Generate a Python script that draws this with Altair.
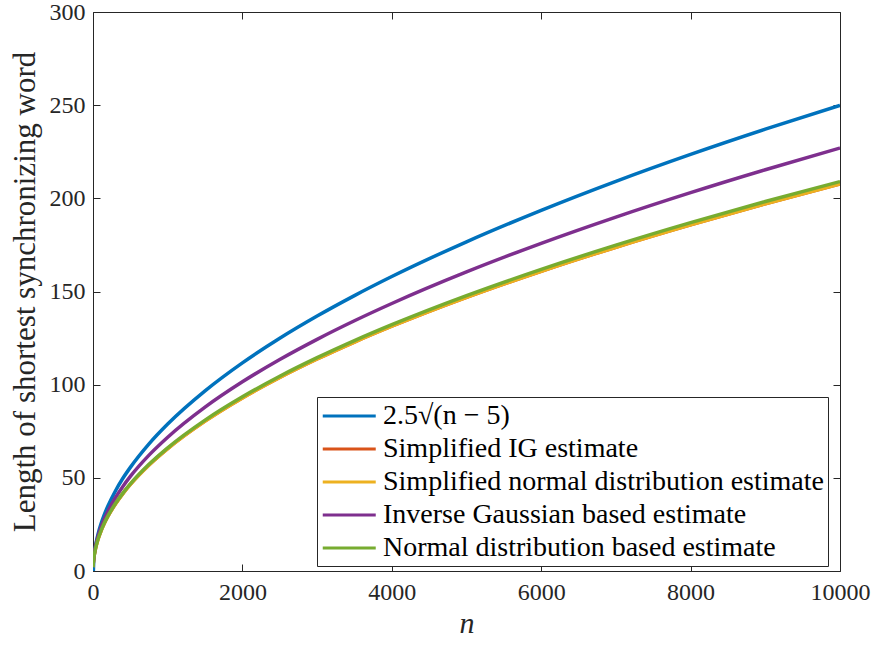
import altair as alt
import pandas as pd

# sample positions (n) and values
n_vals = [1, 2, 5, 10, 20, 35, 50, 75, 100, 150, 200, 300, 400, 500, 750, 1000,
          1500, 2000, 2500, 3000, 3500, 4000, 5000, 6000, 7000, 8000, 9000, 10000]

n_blue = [5, 10, 20, 35, 50, 75, 100, 150, 200, 300, 400, 500, 750, 1000,
          1500, 2000, 2500, 3000, 3500, 4000, 5000, 6000, 7000, 8000, 9000, 10000]
blue = [0.0, 5.59, 9.68, 13.69, 16.77, 20.92, 24.37, 30.10, 34.91, 42.94, 49.75, 55.62,
        68.24, 78.86, 96.66, 111.69, 124.90, 136.83, 147.80, 158.03, 176.67, 193.55,
        209.13, 223.58, 237.11, 249.88]

yellow = [2.08, 2.94, 4.64, 6.57, 9.29, 12.29, 14.69, 17.99, 20.77, 25.44, 29.37, 35.97,
          41.54, 46.44, 56.88, 65.68, 80.44, 92.89, 103.85, 113.76, 122.88, 131.36,
          146.87, 160.88, 173.77, 185.77, 197.04, 207.7]
orange = [2.08, 2.94, 4.64, 6.57, 9.29, 12.29, 14.69, 17.99, 20.77, 25.44, 29.37, 35.97,
          41.54, 46.44, 56.88, 65.68, 80.44, 92.89, 103.85, 113.76, 122.88, 131.36,
          146.87, 160.88, 173.77, 185.77, 197.04, 207.7]
purple = [2.27, 3.21, 5.08, 7.18, 10.15, 13.43, 16.05, 19.66, 22.7, 27.80, 32.10, 39.32,
          45.4, 50.76, 62.17, 71.78, 87.92, 101.52, 113.5, 124.33, 134.30, 143.57,
          160.51, 175.83, 189.92, 203.04, 215.35, 227.0]
green = [2.09, 2.96, 4.67, 6.61, 9.35, 12.36, 14.78, 18.10, 20.9, 25.6, 29.56, 36.2,
         41.8, 46.73, 57.24, 66.09, 80.95, 93.47, 104.5, 114.47, 123.65, 132.18,
         147.79, 161.89, 174.86, 186.94, 198.28, 209.0]

names = ["2.5√(n − 5)", "Simplified IG estimate",
         "Simplified normal distribution estimate",
         "Inverse Gaussian based estimate", "Normal distribution based estimate"]
colors = ["#0072BD", "#D95319", "#EDB120", "#7E2F8E", "#77AC30"]

x_ticks = [0, 2000, 4000, 6000, 8000, 10000]
y_ticks = [0, 50, 100, 150, 200, 250, 300]

W, H = 747, 559
FONT = "Liberation Serif"
INK = "#262626"

def frame(xs, ys, name):
    return pd.DataFrame({"n": xs, "v": ys, "series": name})

dfs = [frame(n_blue, blue, names[0]), frame(n_vals, orange, names[1]),
       frame(n_vals, yellow, names[2]), frame(n_vals, purple, names[3]),
       frame(n_vals, green, names[4])]

xscale = alt.Scale(domain=[0, 10000], nice=False, zero=False)
yscale = alt.Scale(domain=[0, 300], nice=False, zero=False)
cscale = alt.Scale(domain=names, range=colors)

legend = alt.Legend(
    title=None, orient="none", legendX=224, legendY=385,
    symbolType="M-1,0H3", symbolSize=702, symbolStrokeWidth=3.2,
    labelFont=FONT, labelFontSize=28, labelColor="black", labelLimit=0,
    rowPadding=4, labelOffset=32, padding=4,
    strokeColor=INK, fillColor="white", cornerRadius=0, direction="vertical",
)

main_x = alt.Axis(values=x_ticks, format="d", labelFont=FONT, labelFontSize=24,
                  labelColor=INK, ticks=False, domain=False, grid=False,
                  labelPadding=9, title="n", titleFont=FONT, titleFontSize=30,
                  titleFontStyle="italic", titleFontWeight="normal",
                  titleColor=INK, titlePadding=4, labelFlush=False)
main_y = alt.Axis(values=y_ticks, format="d", labelFont=FONT, labelFontSize=24,
                  labelColor=INK, ticks=False, domain=False, grid=False,
                  labelPadding=8, title="Length of shortest synchronizing word",
                  titleFont=FONT, titleFontSize=31, titleFontWeight="normal",
                  titleColor=INK, titlePadding=8)

layers = []
for i, d in enumerate(dfs):
    xa = main_x if i == 0 else None
    ya = main_y if i == 0 else None
    layers.append(
        alt.Chart(d).mark_line(strokeWidth=3.5, interpolate="monotone", clip=True).encode(
            x=alt.X("n:Q", scale=xscale, axis=xa),
            y=alt.Y("v:Q", scale=yscale, axis=ya),
            color=alt.Color("series:N", scale=cscale, legend=legend if i == 0 else None),
        )
    )

def tick_axis(orient, values, off):
    return alt.Axis(orient=orient, offset=off, values=values, labels=False,
                    ticks=True, tickSize=7, tickColor=INK, tickWidth=1,
                    domain=False, grid=False, title=None)

# inward ticks: axes placed at the opposite edge so their ticks point into the plot
for xo, yo in [("top", "right"), ("bottom", "left")]:
    layers.append(
        alt.Chart(dfs[0]).mark_line(opacity=0).encode(
            x=alt.X("n:Q", scale=xscale, axis=tick_axis(xo, x_ticks, -H)),
            y=alt.Y("v:Q", scale=yscale, axis=tick_axis(yo, y_ticks, -W)),
        )
    )

chart = (
    alt.layer(*layers)
    .resolve_axis(x="independent", y="independent")
    .properties(width=W, height=H, autosize=alt.AutoSizeParams(type="none"),
                padding={"left": 93, "top": 12, "right": 35, "bottom": 75},
                background="white")
    .configure_view(stroke=INK, strokeWidth=1)
)

chart.save("out.html", embed_options={"renderer": "svg", "actions": False})
